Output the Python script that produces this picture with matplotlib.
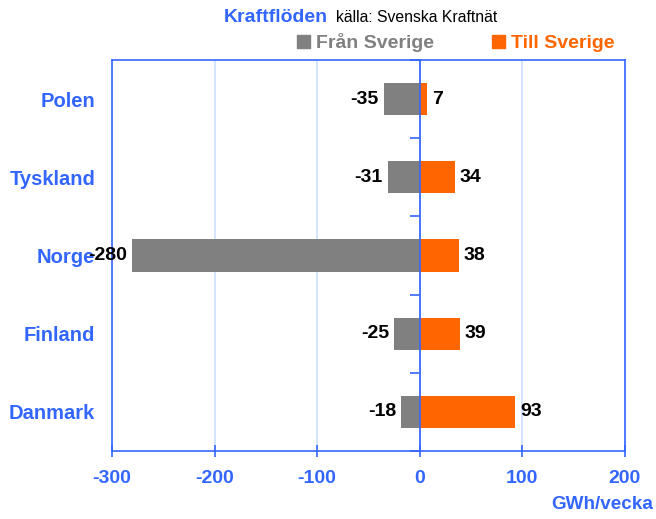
import matplotlib.pyplot as plt
from matplotlib.patches import Patch

plt.rcParams['font.family'] = ['Liberation Sans', 'DejaVu Sans']
plt.rcParams['axes.unicode_minus'] = False

# data
countries = ['Polen', 'Tyskland', 'Norge', 'Finland', 'Danmark']
fran_sverige = [-35, -31, -280, -25, -18]
till_sverige = [7, 34, 38, 39, 93]

blue = '#3366ff'
gray = '#808080'
orange = '#ff6600'

fig = plt.figure(figsize=(6.56, 5.19), dpi=100)
ax = fig.add_axes([0.1707, 0.131, 0.7820, 0.7534])

y = list(range(len(countries)))
ax.barh(y, fran_sverige, height=0.41, color=gray, zorder=3)
ax.barh(y, till_sverige, height=0.41, color=orange, zorder=3)
ax.axvline(0, color=blue, linewidth=1.2, zorder=4)

# value labels
for yi, v in zip(y, fran_sverige):
    ax.text(v - 5, yi, str(v), ha='right', va='center', fontsize=14,
            fontweight='bold', color='black', clip_on=False, zorder=5)
for yi, v in zip(y, till_sverige):
    ax.text(v + 5, yi, str(v), ha='left', va='center', fontsize=14,
            fontweight='bold', color='black', clip_on=False, zorder=5)

ax.set_xlim(-300, 200)
ax.set_ylim(len(countries) - 0.5, -0.5)
ax.set_xticks([-300, -200, -100, 0, 100, 200])
ax.set_yticks(y)
ax.set_yticklabels(countries)
ax.xaxis.grid(True, color='#cce2ff', linewidth=1.2, zorder=0)
ax.set_axisbelow(True)

ax.tick_params(axis='x', direction='inout', length=9, width=1.2, color=blue,
               labelcolor=blue, labelsize=14, pad=9)
ax.tick_params(axis='y', length=0, labelcolor=blue, labelsize=14.5, pad=12)
for lbl in ax.get_xticklabels() + ax.get_yticklabels():
    lbl.set_fontweight('bold')
for s in ax.spines.values():
    s.set_color(blue)
    s.set_linewidth(1.2)

# category separator ticks on the zero line
sec = ax.secondary_yaxis(0.6)
sec.set_yticks([i - 0.5 for i in range(len(countries) + 1)])
sec.set_yticklabels([])
sec.tick_params(direction='in', length=7, width=1.2, color=blue)
for s in sec.spines.values():
    s.set_color(blue)
    s.set_linewidth(1.2)

# title and legend
fig.text(0.341, 0.958, 'Kraftflöden', color=blue, fontsize=14,
         fontweight='bold', ha='left', va='baseline')
fig.text(0.512, 0.958, 'källa: Svenska Kraftnät', color='black',
         fontsize=11.3, ha='left', va='baseline')

handles = [Patch(color=gray, label='Från Sverige'),
           Patch(color=orange, label='Till Sverige')]
fig.legend(handles=handles, loc='center', bbox_to_anchor=(0.695, 0.918),
           ncol=2, frameon=False, handlelength=0.67, handleheight=0.67,
           handletextpad=0.3, columnspacing=3.0, labelcolor=[gray, orange],
           prop={'size': 14, 'weight': 'bold'})

fig.text(0.995, 0.012, 'GWh/vecka', color=blue, fontsize=13.6,
         fontweight='bold', ha='right', va='bottom')

fig.savefig('out.png', dpi=100)
